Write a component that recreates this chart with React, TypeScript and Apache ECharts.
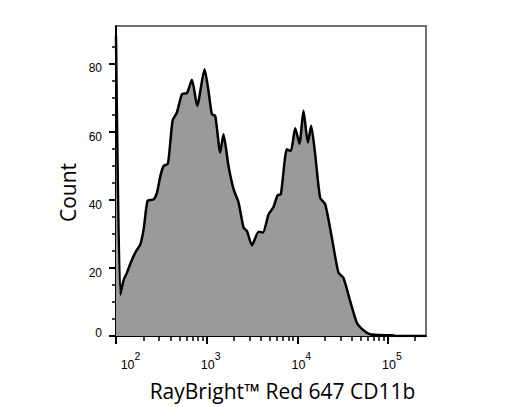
import React, { useEffect, useRef } from "react";
import * as echarts from "echarts";

// log10 of fluorescence intensity (x) and event count (y)
const logIntensity = [
  2.0, 2.047, 2.085, 2.121, 2.17, 2.213, 2.268, 2.305, 2.349, 2.415, 2.452, 2.49,
  2.525, 2.573, 2.624, 2.672, 2.728, 2.783, 2.838, 2.896, 2.977, 3.02, 3.058, 3.095,
  3.15, 3.186, 3.241, 3.297, 3.352, 3.407, 3.445, 3.5, 3.572, 3.621, 3.683, 3.738,
  3.782, 3.819, 3.885, 3.929, 3.977, 4.024, 4.068, 4.117, 4.153, 4.197, 4.252, 4.308,
  4.381, 4.454, 4.509, 4.583, 4.657, 4.73, 4.804, 4.9, 5.05, 5.1, 5.42,
];
const counts = [
  88, 12.2, 16.5, 18.6, 22.0, 24.5, 26.9, 31.3, 39.7, 40.1, 42.1, 47.0,
  49.9, 50.6, 63.2, 65.6, 71.0, 71.3, 75.2, 67.6, 78.3, 72.0, 65.1, 64.6,
  53.9, 59.2, 49.9, 43.1, 39.2, 31.8, 30.8, 26.6, 30.6, 30.4, 35.7, 37.9,
  41.3, 41.6, 54.8, 54.3, 61.0, 56.5, 66.1, 56.8, 61.7, 53.4, 40.6, 38.7,
  28.9, 18.6, 17.1, 10.3, 3.9, 1.7, 0.5, 0.3, 0.2, 0, 0,
];

const yLabelValues = [0, 20, 40, 60, 80];
const yMinorTickValues = [5, 10, 15, 25, 30, 35, 45, 50, 55, 65, 70, 75, 85];
const xDecades = [2, 3, 4, 5];
const xMinorMultipliers = [2, 3, 4, 5, 6, 7, 8, 9];
const xAxisTitle = "RayBright™ Red 647 CD11b";
const yAxisTitle = "Count";

const X_MIN = 2;
const X_MAX = 5.42;
const Y_MAX = 91;

export default function App() {
  const ref = useRef<HTMLDivElement>(null);

  useEffect(() => {
    const chart = echarts.init(ref.current!, null, { renderer: "svg" });

    const xMinor: number[] = [];
    xDecades.forEach((d) => {
      xMinorMultipliers.forEach((m) => {
        const v = d + Math.log10(m);
        if (v < X_MAX) xMinor.push(v);
      });
    });

    const data = logIntensity.map((x, i) => [x, counts[i]]);

    const tickFont = "Liberation Sans";

    chart.setOption({
      animation: false,
      backgroundColor: "#ffffff",
      grid: {
        left: 116,
        top: 26,
        right: 82,
        bottom: 71,
        show: true,
        borderColor: "#444",
        borderWidth: 1.5,
        backgroundColor: "transparent",
      },
      xAxis: [
        {
          type: "value",
          min: X_MIN,
          max: X_MAX,
          position: "bottom",
          axisLine: { show: true, onZero: false, lineStyle: { color: "#000", width: 2 } },
          axisTick: {
            show: true,
            customValues: xDecades,
            length: 8,
            lineStyle: { color: "#000", width: 2 },
          },
          axisLabel: {
            show: true,
            customValues: xDecades,
            margin: 19,
            formatter: (v: number) => {
              const p = Math.round(v);
              return p === 2 ? `{b0|10}{s|${p}}` : `{b|10}{s|${p}}`;
            },
            rich: {
              b: { fontSize: 12.5, fontFamily: tickFont, color: "#000", lineHeight: 12, padding: [8, 0, 0, 8] },
              b0: { fontSize: 12.5, fontFamily: tickFont, color: "#000", lineHeight: 12, padding: [8, 0, 0, 29] },
              s: { fontSize: 10.5, fontFamily: tickFont, color: "#000", lineHeight: 10, padding: [0, 0, 10, 0] },
            },
          },
          splitLine: { show: false },
        },
        {
          type: "value",
          min: X_MIN,
          max: X_MAX,
          position: "bottom",
          axisLine: { show: false, onZero: false },
          axisTick: {
            show: true,
            customValues: xMinor,
            length: 5,
            lineStyle: { color: "#000", width: 1.5 },
          },
          axisLabel: { show: false },
          splitLine: { show: false },
        },
      ],
      yAxis: [
        {
          type: "value",
          min: 0,
          max: Y_MAX,
          position: "left",
          axisLine: { show: true, onZero: false, lineStyle: { color: "#000", width: 2 } },
          axisTick: {
            show: true,
            customValues: yLabelValues,
            length: 7,
            lineStyle: { color: "#000", width: 2 },
          },
          axisLabel: {
            show: true,
            customValues: yLabelValues,
            margin: 14,
            formatter: (v: number) => (v === 0 ? `{z|0}` : `{n|${v}}`),
            rich: {
              n: { fontSize: 12, fontFamily: tickFont, color: "#000", lineHeight: 12, padding: [10, 0, 0, 0] },
              z: { fontSize: 12, fontFamily: tickFont, color: "#000", lineHeight: 12, padding: [0, 0, 7, 0] },
            },
          },
          splitLine: { show: false },
        },
        {
          type: "value",
          min: 0,
          max: Y_MAX,
          position: "left",
          axisLine: { show: false, onZero: false },
          axisTick: {
            show: true,
            customValues: yMinorTickValues,
            length: 4,
            lineStyle: { color: "#000", width: 1.5 },
          },
          axisLabel: { show: false },
          splitLine: { show: false },
        },
      ],
      series: [
        {
          type: "line",
          xAxisIndex: 0,
          yAxisIndex: 0,
          data,
          smooth: 0.2,
          symbol: "none",
          lineStyle: { color: "#000", width: 2.5 },
          areaStyle: { color: "#9a9a9a", opacity: 1 },
          z: 1,
        },
      ],
      graphic: [
        {
          type: "text",
          x: 282.5,
          y: 391,
          style: {
            text: xAxisTitle,
            font: '21px "Open Sans"',
            fill: "#000",
            align: "center",
            verticalAlign: "middle",
          },
        },
        {
          type: "text",
          x: 67.5,
          y: 192.5,
          rotation: Math.PI / 2,
          style: {
            text: yAxisTitle,
            font: '21px "Open Sans"',
            fill: "#000",
            align: "center",
            verticalAlign: "middle",
          },
        },
      ],
    });

    return () => {
      chart.dispose();
    };
  }, []);

  return (
    <div
      ref={ref}
      style={{ position: "absolute", left: 0, top: 0, width: 508, height: 407, background: "#fff" }}
    />
  );
}
